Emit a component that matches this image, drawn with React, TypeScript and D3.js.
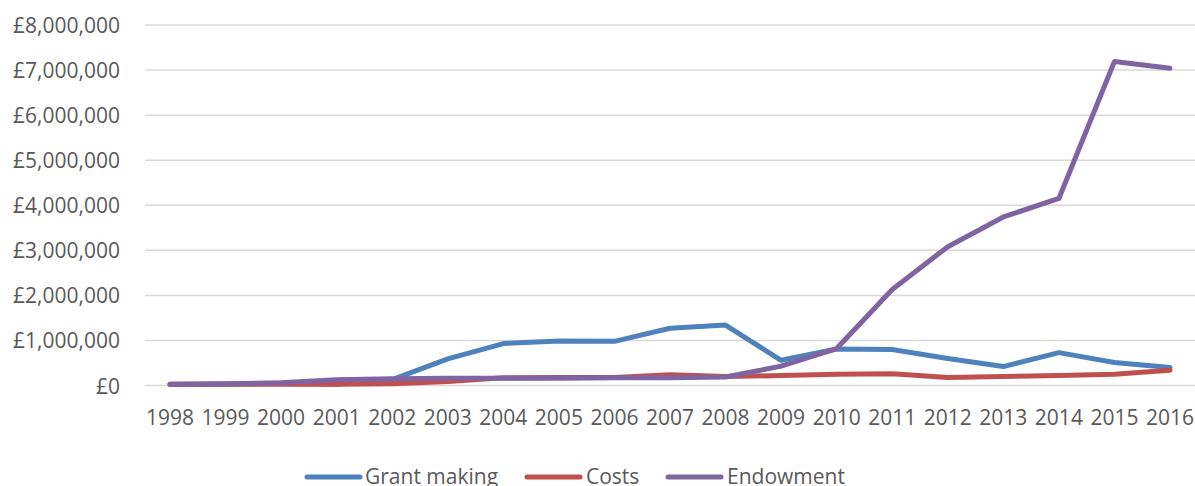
import React from "react";
import * as d3 from "d3";

const years = [
  "1998", "1999", "2000", "2001", "2002", "2003", "2004", "2005", "2006", "2007",
  "2008", "2009", "2010", "2011", "2012", "2013", "2014", "2015", "2016",
];

const grantMaking = [
  20000, 30000, 50000, 30000, 130000, 590000, 930000, 990000, 980000, 1270000,
  1340000, 560000, 810000, 800000, 600000, 420000, 730000, 510000, 400000,
];

const costs = [
  30000, 30000, 30000, 30000, 40000, 90000, 170000, 180000, 180000, 240000,
  200000, 220000, 250000, 260000, 180000, 200000, 220000, 250000, 340000,
];

const endowment = [
  30000, 40000, 60000, 130000, 150000, 160000, 160000, 160000, 170000, 170000,
  190000, 430000, 820000, 2130000, 3080000, 3740000, 4150000, 7190000, 7040000,
];

const yTicks = [0, 1000000, 2000000, 3000000, 4000000, 5000000, 6000000, 7000000, 8000000];

const seriesList = [
  { name: "Grant making", values: grantMaking, color: "#4F81BD" },
  { name: "Costs", values: costs, color: "#C0504D" },
  { name: "Endowment", values: endowment, color: "#8064A2" },
];

const W = 1195;
const H = 486;
const FONT = "'Open Sans', 'Liberation Sans', sans-serif";
const TEXT = "#595959";

export default function App() {
  const x = d3.scalePoint<string>().domain(years).range([170, 1170]);
  const y = d3.scaleLinear().domain([0, 8000000]).range([385.5, 25]);
  const fmt = (v: number) => "£" + d3.format(",")(v);

  const line = d3
    .line<number>()
    .x((_, i) => x(years[i]) as number)
    .y((d) => y(d));

  const legendItems = [
    { lineX: 307, textX: 365 },
    { lineX: 527, textX: 586 },
    { lineX: 668, textX: 727 },
  ];

  return (
    <svg
      width={W}
      height={H}
      style={{ position: "absolute", left: 0, top: 0, background: "#fff" }}
      fontFamily={FONT}
    >
      {yTicks.map((t) => (
        <g key={t}>
          <line x1={145} x2={1195} y1={y(t)} y2={y(t)} stroke="#D9D9D9" strokeWidth={1.5} />
          <text
            x={120}
            y={y(t)}
            textAnchor="end"
            dominantBaseline="central"
            fontSize={21}
            fill={TEXT}
          >
            {fmt(t)}
          </text>
        </g>
      ))}
      {years.map((yr) => (
        <text
          key={yr}
          x={x(yr)}
          y={417}
          textAnchor="middle"
          dominantBaseline="central"
          fontSize={21}
          fill={TEXT}
        >
          {yr}
        </text>
      ))}
      {seriesList.map((s) => (
        <path
          key={s.name}
          d={line(s.values) || ""}
          fill="none"
          stroke={s.color}
          strokeWidth={5}
          strokeLinejoin="round"
          strokeLinecap="round"
        />
      ))}
      {seriesList.map((s, i) => (
        <g key={s.name}>
          <line
            x1={legendItems[i].lineX}
            x2={legendItems[i].lineX + 53}
            y1={477}
            y2={477}
            stroke={s.color}
            strokeWidth={5}
            strokeLinecap="round"
          />
          <text x={legendItems[i].textX} y={484} fontSize={21} fill={TEXT}>
            {s.name}
          </text>
        </g>
      ))}
    </svg>
  );
}
